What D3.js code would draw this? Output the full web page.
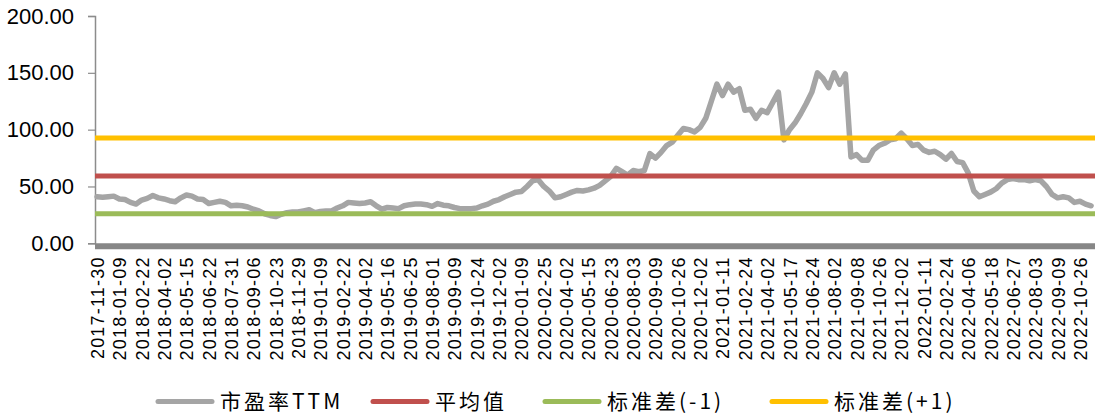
<!DOCTYPE html>
<html>
<head>
<meta charset="utf-8">
<script src="https://cdn.jsdelivr.net/npm/d3@7"></script>
<style>
	body { margin: 0; background: #fff; }
</style>
</head>
<body>
<script>
//tick labels on the category axis (one every 4 samples)
let dateLabels = [
	"2017-11-30", "2018-01-09", "2018-02-22", "2018-04-02", "2018-05-15", "2018-06-22",
	"2018-07-31", "2018-09-06", "2018-10-23", "2018-11-29", "2019-01-09", "2019-02-22",
	"2019-04-02", "2019-05-16", "2019-06-25", "2019-08-01", "2019-09-09", "2019-10-24",
	"2019-12-02", "2020-01-09", "2020-02-25", "2020-04-02", "2020-05-15", "2020-06-23",
	"2020-08-03", "2020-09-09", "2020-10-26", "2020-12-02", "2021-01-11", "2021-02-24",
	"2021-04-02", "2021-05-17", "2021-06-24", "2021-08-02", "2021-09-08", "2021-10-26",
	"2021-12-02", "2022-01-11", "2022-02-24", "2022-04-06", "2022-05-18", "2022-06-27",
	"2022-08-03", "2022-09-09", "2022-10-26"
];

//PE TTM
let peValues = [
	41, 40.5, 41, 41.5, 39, 38.5, 36, 34.5, 38, 39.5, 42, 40, 39, 37.5, 36.5, 40, 42.5, 41.5, 39, 38.5, 35, 36, 37, 36, 33, 33.5,
	33, 32, 30, 28.5, 26, 24.5, 23.5, 25.5, 27, 27.5, 27.5, 28.5, 29.5, 27, 28, 28.5, 28.5, 31, 33, 36, 35.5, 35, 35.5, 36.5, 33, 30,
	31.5, 31, 30.5, 33, 34, 34.5, 34.5, 34, 32.5, 35, 33.5, 33, 31.5, 30.5, 30.5, 30.5, 31, 33, 34.5, 37, 38.5, 41, 43, 45,
	45.5, 50, 55, 56, 50, 46, 40, 41, 43, 45, 46.5, 46, 47, 48.5, 51, 55, 59, 66, 63, 60, 64, 63, 64, 79, 75, 80, 86,
	89, 95, 101, 100, 98, 102, 110, 125, 140, 130, 140, 133, 136, 117, 118, 110, 117, 115, 124, 133, 91, 100, 106, 114, 123, 133, 150,
	145, 137, 150, 140, 149, 76, 78, 73, 73, 82, 86, 88, 91, 92, 97, 92, 86, 87, 82, 80, 81, 78, 74, 79, 72,
	71, 62, 46, 41, 43, 45, 48, 53, 56, 57, 56, 56, 55, 56, 55, 50, 43, 40, 41, 40, 36, 37, 34.5, 33
];

let meanValue = 59.3;   //平均值
let stdMinus = 26.0;    //标准差(-1)
let stdPlus = 92.7;     //标准差(+1)

let yTicks = [0, 50, 100, 150, 200];

let seriesNames = ["市盈率TTM", "平均值", "标准差(-1)", "标准差(+1)"];
let seriesColors = ["#a5a5a5", "#c0504d", "#9bbb59", "#ffc000"];

let svg = d3.select("body").append("svg")
	.attr("width", 1095)
	.attr("height", 416);

let margin = { top: 16, left: 95, right: 0 };
let innerWidth = 1095 - margin.left - margin.right;
let innerHeight = 243.3 - margin.top;

let labelStep = 4;

let scaleX = d3.scaleLinear()
	.domain([-0.36, 178.7])
	.range([0, innerWidth]);

let scaleY = d3.scaleLinear()
	.domain([0, 200])
	.range([innerHeight, 0]);

let g = svg.append("g")
	.attr("transform", `translate(${margin.left}, ${margin.top})`);

//y axis
let yAxis = d3.axisLeft(scaleY)
	.tickValues(yTicks)
	.tickFormat(d3.format(".2f"))
	.tickSize(7)
	.tickPadding(14);

let yG = g.append("g").call(yAxis);
yG.select(".domain").attr("stroke", "#8c8c8c").attr("stroke-width", 1.5);
yG.selectAll(".tick line").attr("stroke", "#8c8c8c").attr("stroke-width", 1.2);
yG.selectAll("text")
	.attr("font-family", "Liberation Sans, Arial, sans-serif")
	.attr("font-size", 22)
	.attr("fill", "#000");

//x axis labels (rotated)
let xAxis = d3.axisBottom(scaleX)
	.tickValues(d3.range(0, dateLabels.length * labelStep, labelStep))
	.tickFormat(i => dateLabels[i / labelStep])
	.tickSize(0);

let xG = g.append("g")
	.attr("transform", `translate(0, ${innerHeight})`)
	.call(xAxis);
xG.select(".domain").remove();
xG.selectAll("text")
	.attr("font-family", "Liberation Sans, Arial, sans-serif")
	.attr("font-size", 18)
	.attr("letter-spacing", 1.2)
	.attr("fill", "#000")
	.attr("y", 0)
	.attr("x", 0)
	.attr("dy", "0.36em")
	.attr("transform", "translate(0, 13) rotate(-90)")
	.attr("text-anchor", "end");

//thick baseline at zero
g.append("line")
	.attr("x1", 0)
	.attr("x2", innerWidth)
	.attr("y1", scaleY(0) + 3)
	.attr("y2", scaleY(0) + 3)
	.attr("stroke", "#878787")
	.attr("stroke-width", 6);

//PE line
let line = d3.line()
	.x((d, i) => scaleX(i))
	.y(d => scaleY(d));

g.append("path")
	.datum(peValues)
	.attr("fill", "none")
	.attr("stroke", seriesColors[0])
	.attr("stroke-width", 5.5)
	.attr("stroke-linejoin", "round")
	.attr("stroke-linecap", "round")
	.attr("d", line);

//mean and std lines span the whole axis
let levels = [meanValue, stdMinus, stdPlus];
let xDom = scaleX.domain();
levels.forEach((v, k) => {
	g.append("path")
		.datum([v, v])
		.attr("fill", "none")
		.attr("stroke", seriesColors[k + 1])
		.attr("stroke-width", 5)
		.attr("d", d3.line().x((d, i) => scaleX(xDom[i])).y(d => scaleY(d)));
});

//legend
let legendX = [158, 373, 545, 772];
let legend = svg.append("g").attr("transform", "translate(0, 401.5)");
seriesNames.forEach((name, k) => {
	legend.append("line")
		.attr("x1", legendX[k])
		.attr("x2", legendX[k] + 54)
		.attr("stroke", seriesColors[k])
		.attr("stroke-width", 5)
		.attr("stroke-linecap", "round");
	legend.append("text")
		.attr("x", legendX[k] + 62)
		.attr("dy", "0.36em")
		.attr("font-family", "Noto Sans CJK SC, sans-serif")
		.attr("font-size", 21)
		.attr("letter-spacing", 3)
		.attr("fill", "#000")
		.text(name);
});
</script>
</body>
</html>
